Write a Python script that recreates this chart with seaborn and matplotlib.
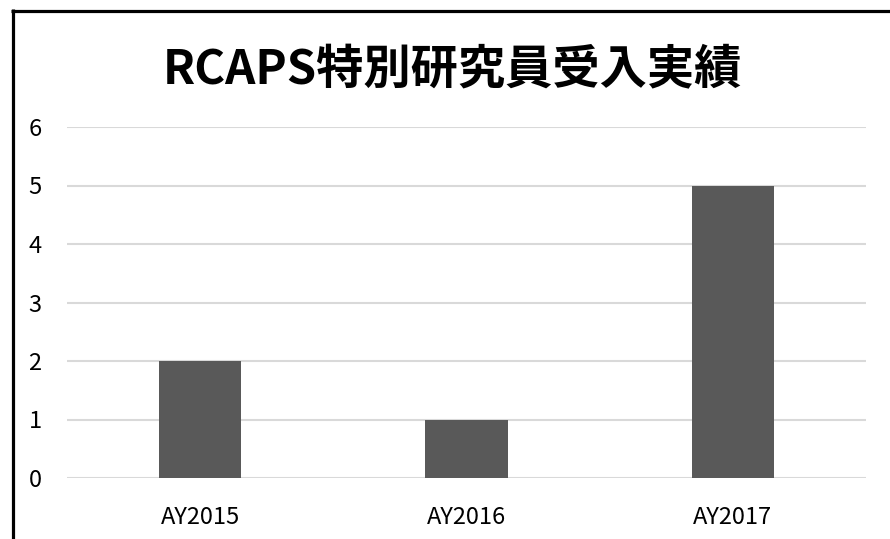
import matplotlib
matplotlib.use("Agg")
import matplotlib.pyplot as plt
from matplotlib.lines import Line2D
import seaborn as sns
import pandas as pd

categories = ["AY2015", "AY2016", "AY2017"]
values = [2, 1, 5]
yticks = [0, 1, 2, 3, 4, 5, 6]
title = "RCAPS特別研究員受入実績"

sns.set_style("white")
plt.rcParams['font.family'] = ['Noto Sans CJK JP', 'DejaVu Sans']

df = pd.DataFrame({"year": categories, "count": values})

fig = plt.figure(figsize=(8.9, 5.39), dpi=100)
ax = fig.add_axes([67/890, 1-478/539, (866-67)/890, (478-127)/539])

sns.barplot(data=df, x="year", y="count", color="#595959", saturation=1,
            width=0.31, ax=ax, zorder=3, linewidth=0, edgecolor="none")

ax.set_ylim(0, 6)
ax.set_yticks(yticks)
ax.set_yticklabels([str(t) for t in yticks])
ax.set_xlim(-0.5, 2.5)
ax.set_xlabel("")
ax.set_ylabel("")
for s in ax.spines.values():
    s.set_visible(False)
ax.grid(axis="y", color="#d9d9d9", linewidth=1.5, zorder=0)
ax.set_axisbelow(True)
ax.tick_params(axis="both", length=0, labelsize=17, colors="#000000")
ax.tick_params(axis="x", pad=20)
for lab in ax.get_yticklabels():
    lab.set_horizontalalignment("center")
ax.tick_params(axis="y", pad=23)

fig.text(452/890, 1-70/539, title, ha="center", va="center",
         fontsize=34, fontweight="bold", color="#000000")

fig.add_artist(Line2D([11/890, 1.0], [1-10.5/539, 1-10.5/539],
                      transform=fig.transFigure, color="black", lw=2.3,
                      solid_capstyle="butt"))
fig.add_artist(Line2D([12.5/890, 12.5/890], [0, 1-9/539],
                      transform=fig.transFigure, color="black", lw=2.3,
                      solid_capstyle="butt"))

fig.savefig("out.png", dpi=100)
